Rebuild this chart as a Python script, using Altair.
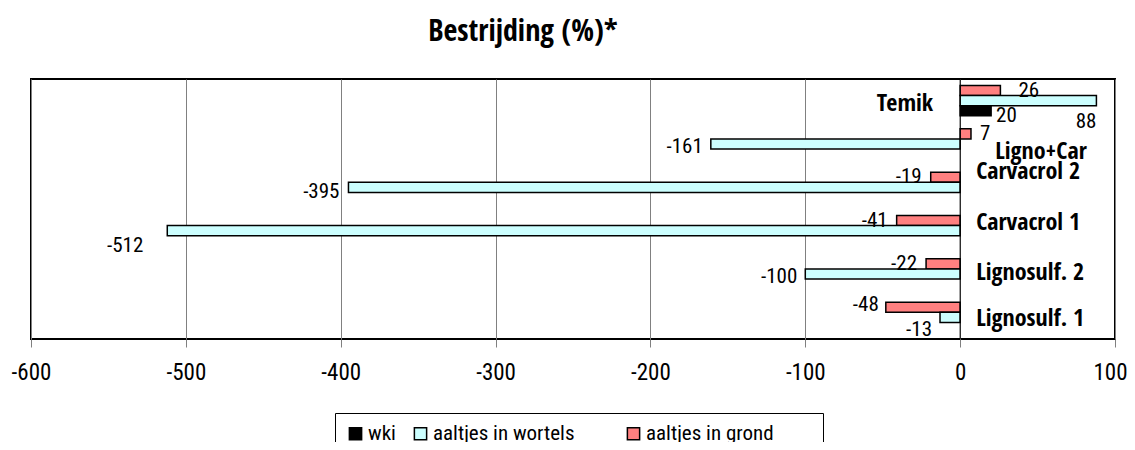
import altair as alt
import pandas as pd

categories = ["Temik", "Ligno+Car", "Carvacrol 2", "Carvacrol 1", "Lignosulf. 2", "Lignosulf. 1"]
grond = [26, 7, -19, -41, -22, -48]
wortels = [88, -161, -395, -512, -100, -13]
wki = [20, None, None, None, None, None]
series = ["aaltjes in grond", "aaltjes in wortels", "wki"]
legend_order = ["wki", "aaltjes in wortels", "aaltjes in grond"]
legend_colors = ["#000000", "#CCFFFF", "#FF8080"]
x_ticks = [-600, -500, -400, -300, -200, -100, 0, 100]

rows = []
for i, c in enumerate(categories):
    for s, vals in zip(series, [grond, wortels, wki]):
        if vals[i] is not None:
            rows.append({"cat": c, "series": s, "value": vals[i]})
df = pd.DataFrame(rows)
cat_df = pd.DataFrame({"cat": categories})

FONT = "Roboto Condensed"
BFONT = "Open Sans Condensed"
GAP1 = "\u00a0" * 7 + "\u200b"
GAP2 = "\u00a0" * 8 + "\u200b"

y_enc = alt.Y("cat:N", sort=categories, axis=None,
              scale=alt.Scale(paddingInner=0.3, paddingOuter=0.15))
yoff = alt.YOffset("series:N", sort=series, scale=alt.Scale(paddingInner=0, paddingOuter=0))
x_enc = alt.X("value:Q", title=None,
              scale=alt.Scale(domain=[-600, 100], nice=False),
              axis=alt.Axis(values=x_ticks, grid=True, gridColor="#808080", gridWidth=1,
                            domain=False, ticks=True, tickColor="#808080", tickSize=8,
                            labelFont=FONT, labelFontSize=23, labelColor="black",
                            labelPadding=14, labelFlush=False,
                            labelOffset={"condition": {"test": "datum.value == 100", "value": -5},
                                         "value": 0},
                            labelExpr="'' + datum.value"))

legend_expr = ("datum.label == 'aaltjes in wortels' ? datum.label + '" + GAP1 + "' : "
               "(datum.label == 'aaltjes in grond' ? datum.label + '" + GAP2 + "' : datum.label)")

bars = alt.Chart(df).mark_bar(stroke="black", strokeWidth=1.5).encode(
    x=x_enc, y=y_enc, yOffset=yoff,
    color=alt.Color("series:N",
                    scale=alt.Scale(domain=legend_order, range=legend_colors),
                    legend=alt.Legend(orient="none", legendX=304, legendY=334,
                                      direction="horizontal", title=None,
                                      symbolType="square", symbolSize=150,
                                      symbolStrokeColor="black", symbolStrokeWidth=1.5,
                                      labelFont=FONT, labelFontSize=21, labelColor="black",
                                      strokeColor="black", padding=10, columnPadding=14,
                                      labelOffset=2, labelLimit=500,
                                      labelExpr=legend_expr)),
)

zero_rule = alt.Chart(cat_df.head(1)).mark_rule(color="black", strokeWidth=1).encode(
    x=alt.X(datum=0, type="quantitative"))


def value_label(sname, cats, align, dx, dy):
    return alt.Chart(df).transform_filter(
        {"and": [{"field": "series", "equal": sname}, {"field": "cat", "oneOf": cats}]}
    ).transform_calculate(lab="'' + datum.value").mark_text(
        align=align, baseline="middle", dx=dx, dy=dy, font=FONT,
        fontSize=21, color="black").encode(
        x=alt.X("value:Q"), y=y_enc, yOffset=yoff, text=alt.Text("lab:N"))


def cat_label(cats, align, dx, dy):
    return alt.Chart(cat_df).transform_filter(
        {"field": "cat", "oneOf": cats}
    ).mark_text(align=align, baseline="middle", dx=dx, dy=dy, font=BFONT,
                fontSize=24, fontWeight="bold", color="black").encode(
        x=alt.X(datum=0, type="quantitative"), y=y_enc, text="cat:N")


layers = [
    bars, zero_rule,
    value_label("aaltjes in grond", ["Temik"], "left", 18, 0),
    value_label("aaltjes in grond", ["Ligno+Car"], "left", 9, 0),
    value_label("aaltjes in grond", ["Carvacrol 2", "Carvacrol 1", "Lignosulf. 2"], "right", -9, 0),
    value_label("aaltjes in grond", ["Lignosulf. 1"], "right", -7, -2),
    value_label("aaltjes in wortels", ["Temik"], "right", 0, 21),
    value_label("aaltjes in wortels", ["Ligno+Car", "Lignosulf. 2"], "right", -8, 3),
    value_label("aaltjes in wortels", ["Carvacrol 2"], "right", -9, 5),
    value_label("aaltjes in wortels", ["Carvacrol 1"], "right", -24, 15),
    value_label("aaltjes in wortels", ["Lignosulf. 1"], "right", -8, 13),
    value_label("wki", ["Temik"], "left", 5, 5),
    cat_label(["Temik"], "right", -27, 3),
    cat_label(["Ligno+Car"], "left", 35, 8),
    cat_label(["Carvacrol 2"], "left", 16, -15),
    cat_label(["Carvacrol 1"], "left", 16, -8),
    cat_label(["Lignosulf. 2"], "left", 16, -1),
    cat_label(["Lignosulf. 1"], "left", 16, 2),
]

chart = alt.layer(*layers).properties(
    width=1084, height=260,
    title=alt.TitleParams("Bestrijding (%)*", font=BFONT, fontSize=30, fontWeight="bold",
                          color="black", dx=-50, offset=32),
    autosize=alt.AutoSizeParams(type="none"),
    padding={"left": 23, "top": 71, "right": 12, "bottom": 103},
).configure_view(stroke="black", strokeWidth=2)

chart.save("out.html", embed_options={"renderer": "svg", "actions": False})
